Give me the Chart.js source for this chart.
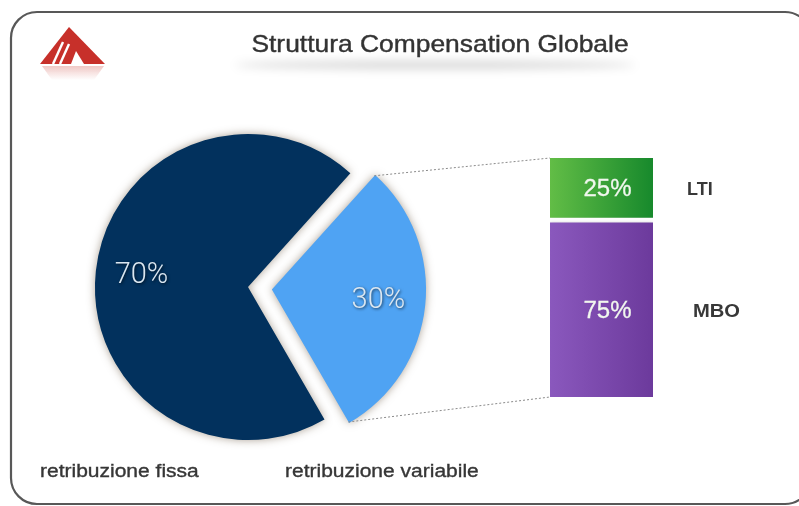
<!DOCTYPE html>
<html>
<head>
<meta charset="utf-8">
<title>Struttura Compensation Globale</title>
<script src="https://cdn.jsdelivr.net/npm/chart.js@4.4.0/dist/chart.umd.min.js"></script>
<style>
  html, body { margin: 0; padding: 0; background: #fff; }
  #wrap { position: relative; width: 799px; height: 506px; overflow: hidden; }
  #wrap canvas { position: absolute; left: 0; top: 0; }
</style>
</head>
<body>
<div id="wrap">
  <canvas id="pieChart" width="799" height="506"></canvas>
  <canvas id="barChart" width="799" height="506"></canvas>
</div>
<script>
const titleText = 'Struttura Compensation Globale';

// fixed vs variable pay
const pieLabels = ['retribuzione variabile', 'retribuzione fissa'];
const pieValues = [30, 70];
const pieColors = ['#4fa3f3', '#02315d'];

// split of the variable part (stacked bottom -> top)
const barLabels = ['MBO', 'LTI'];
const barValues = [75, 25];
const barColors = [['#8a58bd', '#6c3a9c'], ['#62bd46', '#17892c']];

const W = 799, H = 506;

// draws text squeezed/stretched horizontally, optionally a bit heavier
function drawText(ctx, text, x, y, font, color, sx, align, weight) {
  ctx.save();
  ctx.font = font;
  ctx.fillStyle = color;
  ctx.textAlign = align || 'left';
  ctx.textBaseline = 'alphabetic';
  ctx.translate(x, y);
  ctx.scale(sx || 1, 1);
  ctx.fillText(text, 0, 0);
  if (weight) {
    ctx.strokeStyle = color;
    ctx.lineWidth = weight;
    ctx.strokeText(text, 0, 0);
  }
  ctx.restore();
}

function hGradient(context, from, to) {
  const area = context.chart.chartArea;
  if (!area) return to;
  const g = context.chart.ctx.createLinearGradient(area.left, 0, area.right, 0);
  g.addColorStop(0, from);
  g.addColorStop(1, to);
  return g;
}

// where an arc really sits once its offset is applied
function arcOrigin(arc) {
  const mid = (arc.startAngle + arc.endAngle) / 2;
  const off = (arc.options.offset || 0) / 4;
  return { x: arc.x + Math.cos(mid) * off, y: arc.y + Math.sin(mid) * off, mid: mid };
}

const pieShadow = {
  id: 'pieShadow',
  beforeDatasetsDraw(chart) {
    const ctx = chart.ctx;
    ctx.save();
    ctx.shadowColor = 'rgba(90,70,45,0.5)';
    ctx.shadowBlur = 9;
  },
  afterDatasetsDraw(chart) {
    chart.ctx.restore();
  }
};

const pieValueLabels = {
  id: 'pieValueLabels',
  afterDatasetsDraw(chart) {
    const ctx = chart.ctx;
    const meta = chart.getDatasetMeta(0);
    meta.data.forEach((arc, i) => {
      const o = arcOrigin(arc);
      const r = arc.outerRadius * 0.7;
      const x = o.x + Math.cos(o.mid) * r;
      const y = o.y + Math.sin(o.mid) * r;
      ctx.save();
      ctx.shadowColor = 'rgba(0,0,0,0.65)';
      ctx.shadowBlur = 3;
      ctx.shadowOffsetX = 1;
      ctx.shadowOffsetY = 1;
      ctx.font = '300 29px Roboto';
      ctx.fillStyle = '#dbe7f1';
      ctx.textAlign = 'center';
      ctx.textBaseline = 'middle';
      ctx.fillText(pieValues[i] + '%', x, y);
      ctx.restore();
    });
  }
};

const pieChart = new Chart(document.getElementById('pieChart'), {
  type: 'pie',
  data: {
    labels: pieLabels,
    datasets: [{
      data: pieValues,
      backgroundColor: pieColors,
      borderWidth: 0,
      offset: [96, 0]
    }]
  },
  options: {
    responsive: false,
    animation: false,
    events: [],
    rotation: 42,
    radius: 153,
    layout: { padding: { left: 48, top: 87, right: W - 448, bottom: H - 487 } },
    plugins: { legend: { display: false }, tooltip: { enabled: false } }
  },
  plugins: [pieShadow, pieValueLabels]
});

function drawFrame(ctx) {
  ctx.save();
  ctx.strokeStyle = '#585858';
  ctx.lineWidth = 2.2;
  ctx.beginPath();
  ctx.roundRect(11, 12, 800, 492, 26);
  ctx.stroke();
  ctx.restore();
}

function drawLogo(ctx) {
  ctx.save();
  // faded reflection
  const rg = ctx.createLinearGradient(0, 65, 0, 80);
  rg.addColorStop(0, 'rgba(200,60,50,0.3)');
  rg.addColorStop(1, 'rgba(200,60,50,0)');
  ctx.fillStyle = rg;
  ctx.beginPath();
  ctx.moveTo(42, 66); ctx.lineTo(104, 66); ctx.lineTo(94, 80); ctx.lineTo(52, 80);
  ctx.closePath();
  ctx.fill();
  // main triangle
  ctx.fillStyle = '#c7302a';
  ctx.beginPath();
  ctx.moveTo(69, 27); ctx.lineTo(105, 64); ctx.lineTo(40, 64);
  ctx.closePath();
  ctx.fill();
  // white cuts through the left leg
  ctx.strokeStyle = '#fff';
  ctx.lineWidth = 2.4;
  [[63, 42, 53, 64], [69, 44, 60, 64]].forEach(s => {
    ctx.beginPath(); ctx.moveTo(s[0], s[1]); ctx.lineTo(s[2], s[3]); ctx.stroke();
  });
  ctx.fillStyle = '#fff';
  ctx.beginPath();
  ctx.moveTo(76, 51); ctx.lineTo(84, 64); ctx.lineTo(71, 64);
  ctx.closePath();
  ctx.fill();
  ctx.restore();
}

function drawTitle(ctx) {
  ctx.save();
  ctx.filter = 'blur(5px)';
  ctx.fillStyle = 'rgba(0,0,0,0.16)';
  ctx.beginPath();
  ctx.ellipse(435, 65, 200, 4, 0, 0, Math.PI * 2);
  ctx.fill();
  ctx.restore();
  drawText(ctx, titleText, 440, 52, '24px "Liberation Sans"', '#333', 1.1, 'center', 0.4);
}

const decorations = {
  id: 'decorations',
  beforeDraw(chart) {
    const ctx = chart.ctx;
    drawFrame(ctx);
    drawLogo(ctx);
    drawTitle(ctx);
  },
  afterDraw(chart) {
    const ctx = chart.ctx;
    const lightArc = pieChart.getDatasetMeta(0).data[0];
    const o = arcOrigin(lightArc);
    const r = lightArc.outerRadius;
    const topBar = chart.getDatasetMeta(1).data[0];
    const lowBar = chart.getDatasetMeta(0).data[0];

    // dotted connectors from the variable slice to the breakdown bar
    ctx.save();
    ctx.strokeStyle = '#8a8a8a';
    ctx.lineWidth = 1;
    ctx.setLineDash([2, 2]);
    ctx.beginPath();
    ctx.moveTo(o.x + Math.cos(lightArc.startAngle) * r, o.y + Math.sin(lightArc.startAngle) * r);
    ctx.lineTo(topBar.x - topBar.width / 2, topBar.y);
    ctx.moveTo(o.x + Math.cos(lightArc.endAngle) * r, o.y + Math.sin(lightArc.endAngle) * r);
    ctx.lineTo(lowBar.x - lowBar.width / 2, lowBar.base);
    ctx.stroke();
    ctx.restore();

    // values inside the bars and names beside them
    const sideX = [693, 687];
    chart.data.datasets.forEach((ds, i) => {
      const bar = chart.getDatasetMeta(i).data[0];
      const top = bar.y + (i === 0 ? 5 : 0);
      const cy = (top + bar.base) / 2;
      drawText(ctx, barValues[i] + '%', bar.x + 6, cy + 8, '24px "Liberation Sans"', '#f1f7ee', 1, 'center', 0.3);
      drawText(ctx, barLabels[i], sideX[i], cy + 7, 'bold 18px "Liberation Sans"', '#383838', i === 0 ? 1.12 : 1, 'left');
    });

    // pie category names along the bottom
    drawText(ctx, pieLabels[1], 40, 477, '17.5px "Liberation Sans"', '#363636', 1.2, 'left', 0.35);
    drawText(ctx, pieLabels[0], 285, 477, '17.5px "Liberation Sans"', '#363636', 1.2, 'left', 0.35);
  }
};

const barShadow = {
  id: 'barShadow',
  beforeDatasetsDraw(chart) {
    const ctx = chart.ctx;
    ctx.save();
    ctx.shadowColor = 'rgba(0,0,0,0.22)';
    ctx.shadowBlur = 4;
    ctx.shadowOffsetY = 1;
  },
  afterDatasetsDraw(chart) {
    chart.ctx.restore();
  }
};

new Chart(document.getElementById('barChart'), {
  type: 'bar',
  data: {
    labels: ['variabile'],
    datasets: barLabels.map((name, i) => ({
      label: name,
      data: [barValues[i]],
      backgroundColor: (c) => hGradient(c, barColors[i][0], barColors[i][1]),
      borderColor: '#ffffff',
      borderWidth: i === 0 ? { top: 5, left: 0, right: 0, bottom: 0 } : 0,
      borderSkipped: 'start',
      barPercentage: 1,
      categoryPercentage: 1
    }))
  },
  options: {
    responsive: false,
    animation: false,
    events: [],
    layout: { padding: { left: 550, top: 158, right: W - 653, bottom: H - 397 } },
    scales: {
      x: { stacked: true, display: false },
      y: { stacked: true, display: false, min: 0, max: 100 }
    },
    plugins: { legend: { display: false }, tooltip: { enabled: false } }
  },
  plugins: [barShadow, decorations]
});
</script>
</body>
</html>
